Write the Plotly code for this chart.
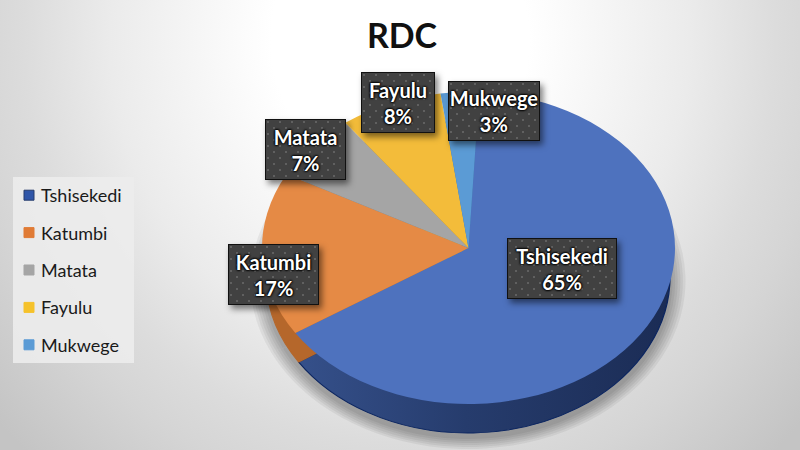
import plotly.graph_objects as go

title = "RDC"
labels = ["Tshisekedi", "Katumbi", "Matata", "Fayulu", "Mukwege"]
values = [65, 17, 7, 8, 3]
face_colors = ["#4E72BE", "#E58A45", "#A5A5A5", "#F3BC3A", "#5B9BD5"]
side_colors = ["#273C6C", "#B5672B", "#7C7C7C", "#B68C25", "#3F74A5"]
side_edges = ["#0B2560", "#B5672B", "#7C7C7C", "#B68C25", "#3F74A5"]
legend_colors = ["#2F55A8", "#E07B35", "#A5A5A5", "#F5C22B", "#5B9BD5"]
shadow_growth = [12, 10, 8, 6, 4, 2]

W, H = 800, 450
# label box centre and size, in pixels of the page
boxes = {
    "Tshisekedi": (562, 268.5, 110, 61),
    "Katumbi": (273.5, 274.5, 91, 61),
    "Matata": (305.5, 149.5, 81, 61),
    "Fayulu": (398, 102.5, 74, 61),
    "Mukwege": (494, 111, 92, 60),
}


def pie_domain(cx, cy, ry):
    return dict(x=[(cx - ry) / W, (cx + ry) / W],
                y=[1 - (cy + ry) / H, 1 - (cy - ry) / H])


fig = go.Figure()
for grow in shadow_growth:
    fig.add_trace(go.Pie(labels=labels, values=values, sort=False, textinfo="none",
                         hoverinfo="skip", showlegend=False,
                         marker=dict(colors=["rgba(0,0,0,0.055)"] * len(values), line=dict(width=0)),
                         domain=pie_domain(468, 281, 156 + grow)))
fig.add_trace(go.Pie(labels=labels, values=values, sort=False, direction="clockwise",
                     rotation=3, textinfo="none", hoverinfo="skip", showlegend=False,
                     marker=dict(colors=side_colors, line=dict(width=1, color=side_edges)),
                     domain=pie_domain(468, 277, 156)))
fig.add_trace(go.Pie(labels=labels, values=values, sort=False, direction="clockwise",
                     rotation=3, textinfo="none", hoverinfo="skip", showlegend=False,
                     marker=dict(colors=face_colors, line=dict(width=0)),
                     domain=pie_domain(468.5, 248, 156)))

for i, name in enumerate(labels):
    fig.add_trace(go.Scatter(x=[None], y=[None], mode="markers", name=name, legendgroup=name,
                             marker=dict(symbol="square", size=10, color=legend_colors[i],
                                         line=dict(width=1, color=side_colors[0] if i == 0 else legend_colors[i]))))

for name, val in zip(labels, values):
    cx, cy, w, h = boxes[name]
    fig.add_annotation(x=cx / W, y=1 - cy / H, xref="paper", yref="paper",
                       text=f"{name}<br>{val}%", showarrow=False, align="center",
                       width=w - 2, height=h - 2, borderpad=0, borderwidth=1,
                       xanchor="center", yanchor="middle",
                       bgcolor="#434343", bordercolor="#111111",
                       font=dict(family="Lato", size=20, color="white", weight="bold",
                                 shadow="0 0 2px #000, 0 0 2px #000, 0 0 2px #000, 0 0 3px #000"))

fig.update_layout(
    width=W, height=H, margin=dict(l=0, r=0, t=0, b=0),
    paper_bgcolor="rgba(0,0,0,0)", plot_bgcolor="rgba(0,0,0,0)",
    title=dict(text=title, x=402 / W, xanchor="center", y=1 - 36 / H, yanchor="middle",
               font=dict(family="Lato", size=34, color="#111111", weight="bold")),
    xaxis=dict(visible=False), yaxis=dict(visible=False),
    showlegend=True,
    legend=dict(x=13 / W, xanchor="left", y=1 - 177 / H, yanchor="top",
                bgcolor="rgba(236,236,236,0.9)", tracegroupgap=11,
                itemclick=False, itemdoubleclick=False,
                font=dict(family="Lato", size=18, color="#1a1a1a")),
)

post = """
document.body.style.margin = '0';
document.documentElement.style.background = 'radial-gradient(ellipse 537px 575px at 400px 40px, #ffffff 24%, #ebebeb 54%, #dcdcdc 70%, #d5d5d5 80%, #c4c4c4 100%)';
document.documentElement.style.height = '100%';
document.body.style.background = 'transparent';
document.body.style.overflow = 'hidden';
var gd = document.getElementById('{plot_id}');
var traces = gd.querySelectorAll('.pielayer .trace');
function squash(t, cx, sx) {
  t.setAttribute('transform', 'translate(' + cx + ' 0) scale(' + sx + ' 1) translate(' + (-cx) + ' 0)');
}
var n = traces.length;
for (var i = 0; i < n - 2; i++) { squash(traces[i], 468, 202 / 156); }
squash(traces[n - 2], 468, 202 / 156);
squash(traces[n - 1], 468.5, 206.5 / 156);
var svg = gd.querySelector('svg.main-svg');
var ns = 'http://www.w3.org/2000/svg';
var defs = document.createElementNS(ns, 'defs');
var pat = document.createElementNS(ns, 'pattern');
pat.setAttribute('id', 'dots'); pat.setAttribute('width', '12'); pat.setAttribute('height', '12');
pat.setAttribute('patternUnits', 'userSpaceOnUse');
var bg = document.createElementNS(ns, 'rect');
bg.setAttribute('width', '12'); bg.setAttribute('height', '12'); bg.setAttribute('fill', '#414141');
var d1 = document.createElementNS(ns, 'circle');
d1.setAttribute('cx', '3'); d1.setAttribute('cy', '3'); d1.setAttribute('r', '1'); d1.setAttribute('fill', '#6a6a6a');
var d2 = document.createElementNS(ns, 'circle');
d2.setAttribute('cx', '9'); d2.setAttribute('cy', '9'); d2.setAttribute('r', '1'); d2.setAttribute('fill', '#6a6a6a');
pat.appendChild(bg); pat.appendChild(d1); pat.appendChild(d2); defs.appendChild(pat);
var grad = document.createElementNS(ns, 'linearGradient');
grad.setAttribute('id', 'sideblue');
[['0%', '#35508a'], ['45%', '#263c6d'], ['100%', '#1b2c55']].forEach(function (s) {
  var st = document.createElementNS(ns, 'stop');
  st.setAttribute('offset', s[0]); st.setAttribute('stop-color', s[1]); grad.appendChild(st);
});
defs.appendChild(grad);
svg.appendChild(defs);
traces[n - 2].querySelector('.slice path').style.fill = 'url(#sideblue)';
gd.querySelectorAll('.annotation rect.bg').forEach(function (r) {
  r.style.fill = 'url(#dots)';
  r.style.filter = 'drop-shadow(3px 4px 3px rgba(0,0,0,0.5))';
});
gd.querySelectorAll('.legend .legendtext').forEach(function (t) {
  t.setAttribute('x', parseFloat(t.getAttribute('x')) - 12);
});
gd.querySelectorAll('.legend .legendsymbols').forEach(function (t) {
  t.setAttribute('transform', 'translate(-4 0)');
});
var lb = gd.querySelector('.legend rect.bg');
lb.setAttribute('width', 121);
"""
fig.write_html("out.html", post_script=post, config=dict(displayModeBar=False))
